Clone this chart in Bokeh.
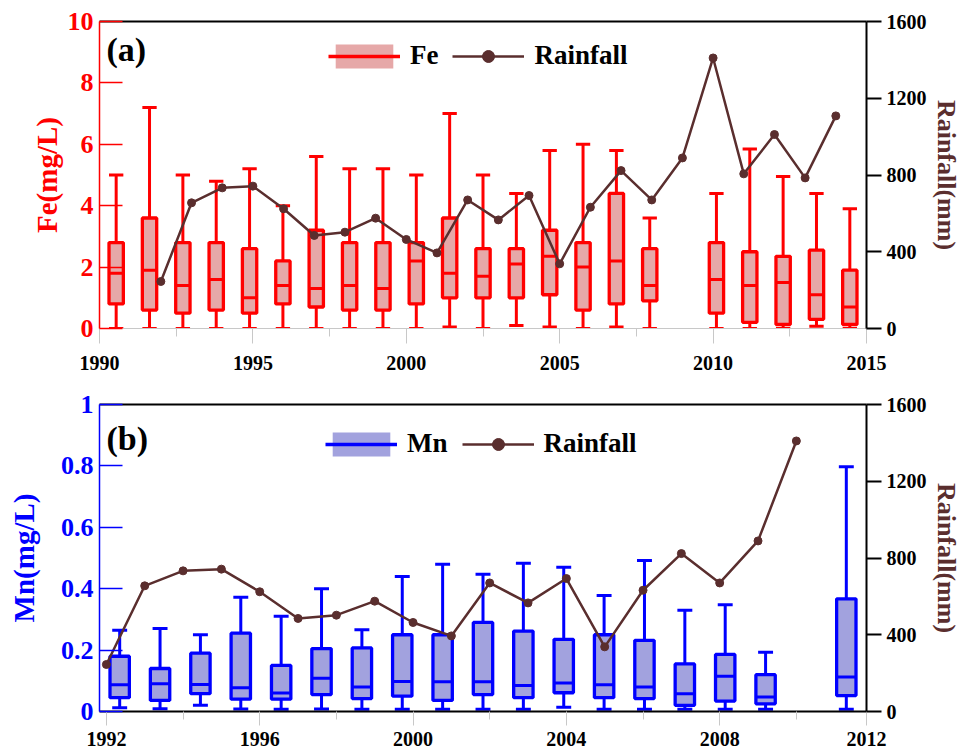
from bokeh.plotting import figure
from bokeh.models import (Range1d, LinearAxis, FixedTicker, Legend,
                          LegendItem, Label, ColumnDataSource, NumeralTickFormatter)
from bokeh.transform import dodge
from bokeh.layouts import column
from bokeh.embed import file_html
from bokeh.resources import INLINE

# ---------------- data ----------------
rain_years = [1992, 1993, 1994, 1995, 1996, 1997, 1998, 1999, 2000, 2001, 2002, 2003,
              2004, 2005, 2006, 2007, 2008, 2009, 2010, 2011, 2012, 2013, 2014]
rainfall = [245, 655, 733, 742, 624, 485, 502, 575, 464, 394, 670, 566,
            693, 337, 632, 823, 670, 889, 1410, 806, 1011, 785, 1108]

fe_years = [1992, 1993, 1994, 1995, 1996, 1997, 1998, 1999, 2000, 2001, 2002,
            2003, 2004, 2005, 2006, 2007, 2008, 2010, 2011, 2012, 2013, 2014]
fe_min = [0, 0, 0, 0, 0, 0, 0, 0, 0, 0, 0.05, 0, 0.1, 0.05, 0, 0.05, 0, 0, 0, 0, 0.07, 0]
fe_q1 = [0.8, 0.6, 0.5, 0.6, 0.5, 0.8, 0.7, 0.6, 0.6, 0.8, 1.0, 1.0, 1.0, 1.1, 0.6, 0.8,
         0.9, 0.5, 0.2, 0.13, 0.3, 0.13]
fe_med = [1.8, 1.9, 1.4, 1.6, 1.0, 1.4, 1.3, 1.4, 1.3, 2.2, 1.8, 1.7, 2.1, 2.35, 2.0, 2.2,
          1.4, 1.6, 1.4, 1.5, 1.1, 0.7]
fe_q3 = [2.8, 3.6, 2.8, 2.8, 2.6, 2.2, 3.2, 2.8, 2.8, 2.8, 3.6, 2.6, 2.6, 3.2, 2.8, 4.4,
         2.6, 2.8, 2.5, 2.35, 2.55, 1.9]
fe_max = [5.0, 7.2, 5.0, 4.8, 5.2, 4.0, 5.6, 5.2, 5.2, 5.0, 7.0, 5.0, 4.4, 5.8, 6.0, 5.8,
          3.6, 4.4, 5.85, 4.95, 4.4, 3.9]

mn_years = [1992, 1993, 1994, 1995, 1996, 1997, 1998, 1999, 2000, 2001, 2002, 2003,
            2004, 2005, 2006, 2007, 2008, 2010]
mn_min = [0.012, 0.009, 0.02, 0.008, 0.007, 0.008, 0.007, 0.007, 0.007, 0.007, 0.007,
          0.014, 0.007, 0.007, 0.007, 0.007, 0.007, 0.007]
mn_q1 = [0.045, 0.036, 0.058, 0.04, 0.04, 0.055, 0.042, 0.05, 0.036, 0.055, 0.045,
         0.061, 0.045, 0.042, 0.02, 0.034, 0.025, 0.052]
mn_med = [0.087, 0.09, 0.088, 0.077, 0.06, 0.108, 0.08, 0.098, 0.097, 0.097, 0.085,
          0.093, 0.087, 0.08, 0.058, 0.115, 0.047, 0.112]
mn_q3 = [0.18, 0.14, 0.19, 0.255, 0.15, 0.205, 0.207, 0.25, 0.25, 0.29, 0.262,
         0.235, 0.25, 0.232, 0.155, 0.186, 0.12, 0.367]
mn_max = [0.265, 0.27, 0.25, 0.372, 0.31, 0.4, 0.266, 0.44, 0.48, 0.447, 0.483,
          0.47, 0.378, 0.492, 0.33, 0.348, 0.193, 0.797]

fe_xticks = [1990, 1995, 2000, 2005, 2010, 2015]
mn_xticks = [1992, 1996, 2000, 2004, 2008, 2012]
fe_yticks = [0, 2, 4, 6, 8, 10]
mn_yticks = [0, 0.2, 0.4, 0.6, 0.8, 1.0]
rain_ticks = [0, 400, 800, 1200, 1600]

FONT = "Liberation Serif"
RED = "#ff0000"
BLUE = "#0000ff"
BROWN = "#5a2e2e"
PINK = "#e6a8a8"
LAVENDER = "#a2a2de"


def make_panel(tag, name, color, fill, years, vmin, vq1, vmed, vq3, vmax,
               cat_years, rx, ry, xr, ymax, yticks, xticks, height, top, bottom,
               box_w, cap_w, ylab_standoff, legend_loc, tag_y, xline_color,
               xline_width, tick_out, lab_standoff, yfmt):
    p = figure(width=966, height=height, x_range=Range1d(*xr), y_range=Range1d(0, ymax),
               output_backend="svg", toolbar_location=None,
               min_border_left=99, min_border_right=100,
               min_border_top=top, min_border_bottom=bottom)
    # box slots: one equal-width slot per year of the category list
    p.extra_x_ranges = {"cat": Range1d(0, len(cat_years))}
    p.extra_y_ranges = {"rain": Range1d(0, 1600)}
    p.grid.visible = False
    p.outline_line_color = None
    p.background_fill_color = "white"
    p.border_fill_color = "white"

    slot = [cat_years.index(y) + 0.5 for y in years]
    src = ColumnDataSource(dict(x=slot, lo=vmin, q1=vq1, med=vmed, q3=vq3, hi=vmax))
    p.segment(x0="x", y0="lo", x1="x", y1="hi", x_range_name="cat", source=src,
              line_color=color, line_width=3)
    p.vbar(x="x", width=box_w, bottom="q1", top="q3", x_range_name="cat", source=src,
           fill_color=fill, line_color=color, line_width=3.3)
    p.segment(x0=dodge("x", -box_w / 2), x1=dodge("x", box_w / 2),
              y0="med", y1="med", x_range_name="cat", source=src,
              line_color=color, line_width=3)
    for fld in ("lo", "hi"):
        p.segment(x0=dodge("x", -cap_w / 2), x1=dodge("x", cap_w / 2),
                  y0=fld, y1=fld, x_range_name="cat", source=src,
                  line_color=color, line_width=3)

    rline = p.line(rx, ry, y_range_name="rain", line_color=BROWN, line_width=2.5)
    rpts = p.scatter(rx, ry, y_range_name="rain", size=8, fill_color=BROWN,
                     line_color=BROWN)

    # hidden renderers that only provide the legend icon
    d_box = p.vbar(x="x", width=box_w, bottom="q1", top="q3", x_range_name="cat",
                   source=src, fill_color=fill, line_color=None, visible=False)
    d_line = p.line(x="x", y="med", x_range_name="cat", source=src,
                    line_color=color, line_width=3.5, visible=False)

    # left axis
    ya = p.yaxis[0]
    ya.ticker = FixedTicker(ticks=yticks)
    if yfmt is not None:
        ya.formatter = yfmt
    ya.axis_label = name + "(mg/L)"
    ya.axis_label_text_color = color
    ya.axis_label_text_font = FONT
    ya.axis_label_text_font_style = "bold"
    ya.axis_label_text_font_size = "29px"
    ya.axis_label_standoff = ylab_standoff
    ya.axis_line_color = color
    ya.axis_line_width = 1.5
    ya.major_tick_in = 23
    ya.major_tick_out = 0
    ya.major_tick_line_color = color
    ya.major_tick_line_width = 1.5
    ya.minor_tick_line_color = None
    ya.major_label_text_color = color
    ya.major_label_text_font = FONT
    ya.major_label_text_font_style = "bold"
    ya.major_label_text_font_size = "26px"
    ya.major_label_standoff = 6

    # bottom axis (a tick beyond the range end sits on the frame edge)
    xa = p.xaxis[0]
    minors = [(a + b) / 2 for a, b in zip(xticks, xticks[1:])]
    shown = [min(t, xr[1]) for t in xticks]
    xa.ticker = FixedTicker(ticks=shown, minor_ticks=minors)
    xa.major_label_overrides = {s: str(t) for s, t in zip(shown, xticks) if s != t}
    xa.axis_line_color = xline_color
    xa.axis_line_width = xline_width
    xa.major_tick_line_color = "#c8c8c8"
    xa.minor_tick_line_color = "#c8c8c8"
    xa.major_tick_line_width = 1
    xa.minor_tick_line_width = 1
    xa.major_tick_in = 0
    xa.minor_tick_in = 0
    xa.major_tick_out = tick_out
    xa.minor_tick_out = 8
    xa.major_label_text_font = FONT
    xa.major_label_text_font_style = "bold"
    xa.major_label_text_font_size = "20px"
    xa.major_label_text_color = "black"
    xa.major_label_standoff = lab_standoff

    # top border
    ta = LinearAxis(ticker=FixedTicker(ticks=[]))
    ta.axis_line_color = "black"
    ta.axis_line_width = 2
    ta.major_tick_out = 0
    ta.major_tick_in = 0
    ta.minor_tick_out = 0
    ta.minor_tick_in = 0
    ta.major_label_standoff = 0
    p.add_layout(ta, "above")

    # right axis
    ra = LinearAxis(y_range_name="rain", ticker=FixedTicker(ticks=rain_ticks))
    ra.axis_label = "Rainfall(mm)"
    ra.axis_label_text_color = BROWN
    ra.axis_label_text_font = FONT
    ra.axis_label_text_font_style = "bold"
    ra.axis_label_text_font_size = "26px"
    ra.axis_label_standoff = 2
    ra.axis_line_color = "black"
    ra.axis_line_width = 2
    ra.major_tick_in = 0
    ra.major_tick_out = 15
    ra.major_tick_line_color = "black"
    ra.major_tick_line_width = 2
    ra.minor_tick_line_color = None
    ra.major_label_text_color = "black"
    ra.major_label_text_font = FONT
    ra.major_label_text_font_style = "bold"
    ra.major_label_text_font_size = "20px"
    ra.major_label_standoff = 5
    p.add_layout(ra, "right")

    legend = Legend(items=[LegendItem(label=name, renderers=[d_box, d_line]),
                           LegendItem(label="Rainfall", renderers=[rline, rpts])],
                    orientation="horizontal", location=legend_loc,
                    glyph_width=72, glyph_height=30, label_standoff=10, spacing=14,
                    padding=0, margin=0, border_line_color=None,
                    background_fill_alpha=0, inactive_fill_alpha=0,
                    label_text_font=FONT,
                    label_text_font_style="bold", label_text_font_size="27px",
                    label_text_color="black")
    p.add_layout(legend)

    p.add_layout(Label(x=7, y=tag_y, x_units="screen", y_units="screen", text=tag,
                       text_baseline="middle", text_font=FONT, text_font_style="bold",
                       text_font_size="34px", text_color="black"))
    return p


p1 = make_panel("(a)", "Fe", RED, PINK, fe_years, fe_min, fe_q1, fe_med, fe_q3, fe_max,
                rain_years, rain_years, rainfall, (1990, 2015), 10, fe_yticks, fe_xticks,
                382, 21, 54, 0.43, 0.43, 2, (229, 257), 279, "#c8c8c8", 1, 15, 12, None)

mn_rain_years = rain_years[:rain_years.index(2010) + 1]
mn_rainfall = rainfall[:len(mn_rain_years)]
p2 = make_panel("(b)", "Mn", BLUE, LAVENDER, mn_years, mn_min, mn_q1, mn_med, mn_q3, mn_max,
                mn_rain_years, mn_rain_years, mn_rainfall, (1991.82, 2011.83), 1, mn_yticks,
                mn_xticks, 374, 22, 45, 0.48, 0.37, 18, (226, 252), 273, "black", 2, 14, 6,
                NumeralTickFormatter(format="0.[0]"))

layout = column(p1, p2)
open("out.html", "w").write(file_html(layout, INLINE))
